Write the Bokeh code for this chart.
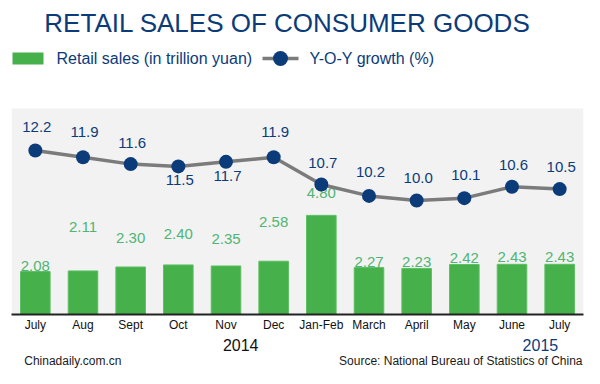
from bokeh.plotting import figure
from bokeh.layouts import column
from bokeh.models import Range1d, FactorRange, ColumnDataSource, Label, CustomJSTickFormatter
from bokeh.embed import file_html
from bokeh.resources import INLINE
from bokeh.core.properties import value

# ---------------- data ----------------
period_keys = ["2014-07", "2014-08", "2014-09", "2014-10", "2014-11", "2014-12",
               "2015-0102", "2015-03", "2015-04", "2015-05", "2015-06", "2015-07"]
tick_labels = ["July", "Aug", "Sept", "Oct", "Nov", "Dec",
               "Jan-Feb", "March", "April", "May", "June", "July"]
retail_sales = [2.08, 2.11, 2.30, 2.40, 2.35, 2.58, 4.80, 2.27, 2.23, 2.42, 2.43, 2.43]
yoy_growth = [12.2, 11.9, 11.6, 11.5, 11.7, 11.9, 10.7, 10.2, 10.0, 10.1, 10.6, 10.5]
year_labels = ["2014", "2015"]

# label placement (screen px offsets, positive = down)
sales_label_offsets = [-6, -44, -29, -31, -27, -39, -22, -6, -6, -7, -7, -7]
growth_label_offsets = [-23, -25, -21, 14, 14, -25, -22, -24, -22, -23, -22, -22]

FONT = "Liberation Sans"
NAVY = "#0c3b7a"
GREEN = "#46b04b"
LABEL_GREEN = "#50b574"
GREY = "#7b7b7b"

W = 584
H_TOP, H_BOTTOM = 334, 34
FRAME_L, FRAME_R, FRAME_B = 11, 583, 314   # pixel extent of the plotting frame
N = len(period_keys)


def sx(px):
    """pixel x -> synthetic categorical coordinate"""
    return (px - FRAME_L) * N / (FRAME_R - FRAME_L)


src = ColumnDataSource(dict(
    k=period_keys,
    sales=retail_sales,
    sales_txt=[f"{v:.2f}" for v in retail_sales],
    sl_off=sales_label_offsets,
    growth=yoy_growth,
    growth_txt=[f"{v:.1f}" for v in yoy_growth],
    gl_off=growth_label_offsets,
))

p = figure(width=W, height=H_TOP,
           x_range=FactorRange(*period_keys, range_padding=0),
           y_range=Range1d(0, FRAME_B / 20.65),
           output_backend="svg", toolbar_location=None,
           y_axis_location=None,
           min_border_left=FRAME_L, min_border_right=W - FRAME_R,
           min_border_top=0, min_border_bottom=H_TOP - FRAME_B,
           outline_line_color=None,
           background_fill_color="white", border_fill_color="white")

p.extra_y_ranges = {"g": Range1d(4.975, 12.2 + 150 / 22.7), "py": Range1d(FRAME_B, 0)}

p.grid.visible = False

# grey panel
p.quad(left=[sx(FRAME_L)], right=[sx(FRAME_R)], top=[108], bottom=[FRAME_B],
       y_range_name="py", fill_color="#f2f2f2", line_color=None)

# bars
p.vbar(x="k", top="sales", width=0.62, source=src,
       fill_color=GREEN, line_color="#5cbf62", line_width=1)
p.text(x="k", y="sales", text="sales_txt", y_offset="sl_off", source=src,
       text_align="center", text_baseline="middle",
       text_font=value(FONT), text_font_size="15px", text_color=LABEL_GREEN)

# growth line
p.line(x="k", y="growth", y_range_name="g", source=src,
       line_color=GREY, line_width=3.5)
p.scatter(x="k", y="growth", y_range_name="g", source=src,
          size=14, fill_color=NAVY, line_color=None)
p.text(x="k", y="growth", y_range_name="g", text="growth_txt",
       y_offset="gl_off", x_offset=1.5, source=src,
       text_align="center", text_baseline="middle",
       text_font=value(FONT), text_font_size="15px", text_color=NAVY)

# legend (manual)
p.quad(left=[sx(12)], right=[sx(43)], top=[52], bottom=[64],
       y_range_name="py", fill_color=GREEN, line_color=None)
p.segment(x0=[sx(262)], x1=[sx(298)], y0=[58], y1=[58],
          y_range_name="py", line_color=GREY, line_width=3.5)
p.scatter(x=[sx(280)], y=[58], y_range_name="py",
          size=15, fill_color=NAVY, line_color=None)


def add_label(x, y, text, size, color, align="left"):
    p.add_layout(Label(x=sx(x), y=y, text=text, y_range_name="py",
                       text_font=FONT, text_font_size=size, text_color=color,
                       text_align=align, text_baseline="middle"))


add_label(287, 22, "RETAIL SALES OF CONSUMER GOODS", "26px", NAVY, "center")
add_label(56, 58, "Retail sales (in trillion yuan)", "16px", NAVY)
add_label(309, 58, "Y-O-Y growth (%)", "16px", NAVY)

# axis
ax = p.xaxis[0]
ax.formatter = CustomJSTickFormatter(args=dict(names=dict(zip(period_keys, tick_labels))),
                                     code="return names[tick] || tick;")
ax.axis_line_width = 2
ax.axis_line_color = "#222222"
ax.major_tick_line_color = None
ax.minor_tick_line_color = None
ax.major_tick_out = 0
ax.major_tick_in = 0
ax.major_label_text_font = FONT
ax.major_label_text_font_size = "12px"
ax.major_label_text_color = "#111111"
ax.major_label_standoff = 3

# ---------------- footer strip (years + credits) ----------------
f = figure(width=W, height=H_BOTTOM,
           x_range=Range1d(0, W), y_range=Range1d(H_BOTTOM, 0),
           output_backend="svg", toolbar_location=None,
           x_axis_location=None, y_axis_location=None,
           min_border=0, outline_line_color=None,
           background_fill_color="white", border_fill_color="white")
f.grid.visible = False


def add_foot(x, y, text, size, color, align="left"):
    f.add_layout(Label(x=x, y=y, text=text,
                       text_font=FONT, text_font_size=size, text_color=color,
                       text_align=align, text_baseline="middle"))


add_foot(234, 10, year_labels[0], "16px", "#111111", "center")
add_foot(540, 10, year_labels[1], "16px", NAVY, "center")
add_foot(13, 26, "Chinadaily.com.cn", "12px", "#1a1a1a")
add_foot(583, 26, "Source: National Bureau of Statistics of China", "12px", "#1a1a1a", "right")

layout = column(p, f, spacing=0)
open("out.html", "w").write(file_html(layout, INLINE))
